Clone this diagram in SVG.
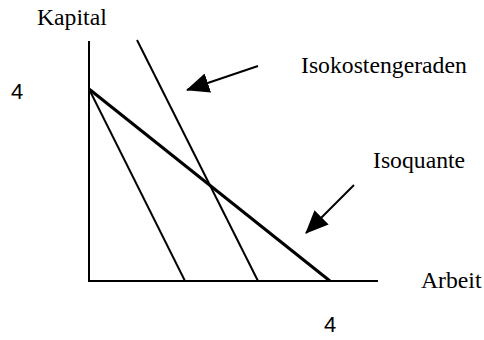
<svg xmlns="http://www.w3.org/2000/svg" width="484" height="340" viewBox="0 0 484 340">
<defs>
<style>
.t{font-family:"Liberation Serif","Times New Roman",serif;font-size:23.7px;fill:#000}
.n{font-family:"Liberation Sans",Arial,sans-serif;font-size:22px;fill:#000}
.ln{stroke:#000;stroke-width:2;fill:none}
.iq{stroke:#000;stroke-width:3;fill:none}
</style>
<marker id="ah" viewBox="0 0 23 20" refX="22" refY="10" markerWidth="23" markerHeight="20" markerUnits="userSpaceOnUse" orient="auto">
<path d="M0,0 L23,10 L0,20 z" fill="#000"/>
</marker>
</defs>
<g id="axes">
<line class="ln" x1="89" y1="41" x2="89" y2="282"/>
<line class="ln" x1="88" y1="281" x2="378" y2="281"/>
</g>
<g id="isokosten1"><line class="ln" x1="89" y1="89" x2="185" y2="281"/></g>
<g id="isokosten2"><line class="ln" x1="137" y1="40" x2="258" y2="281"/></g>
<g id="isoquante"><line class="iq" x1="89" y1="89" x2="330" y2="281"/></g>
<g id="connectors">
<line class="ln" x1="258" y1="66" x2="187" y2="90" marker-end="url(#ah)"/>
<line class="ln" x1="354" y1="185" x2="306" y2="233" marker-end="url(#ah)"/>
</g>
<g id="labels">
<text class="t" x="37" y="25">Kapital</text>
<text class="n" x="11" y="99">4</text>
<text class="t" x="301" y="73">Isokostengeraden</text>
<text class="t" x="373" y="168">Isoquante</text>
<text class="t" x="421" y="288">Arbeit</text>
<text class="n" x="324" y="332">4</text>
</g>
</svg>
